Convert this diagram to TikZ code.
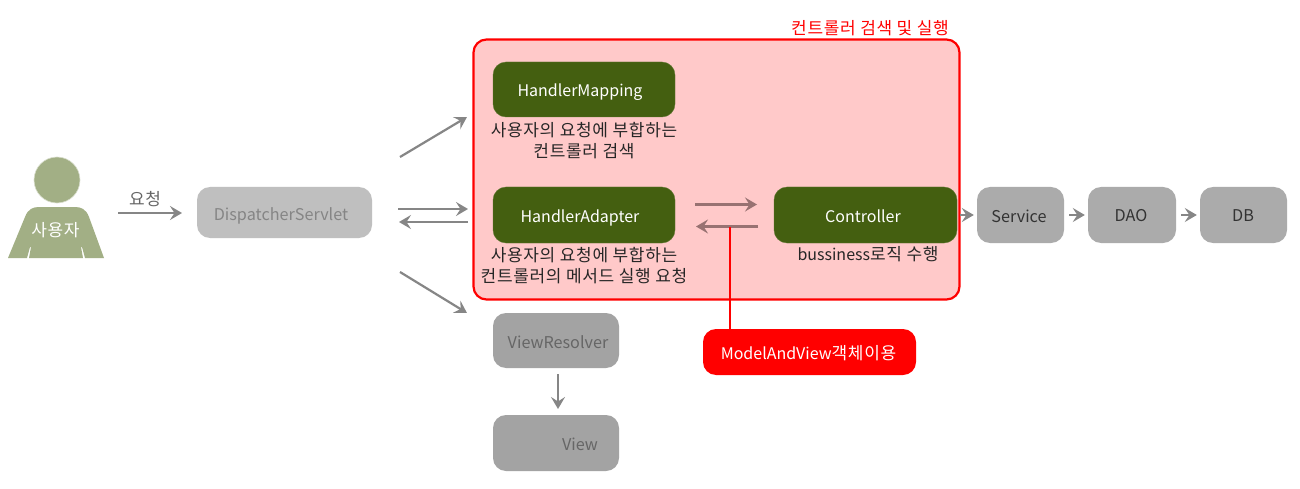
\documentclass[tikz,border=0pt]{standalone}
\usepackage{fontspec}
\setmainfont{Noto Sans CJK KR}
\newfontfamily\kofont[LetterSpace=4]{Noto Sans CJK KR}
\newcommand\ko[1]{{\kofont\fontsize{17}{21.5}\selectfont #1}}
\newcommand\lat{\fontsize{16}{18}\selectfont}
\newcommand\latb{\fontsize{16.2}{18}\selectfont}
\usetikzlibrary{arrows.meta,calc}
\definecolor{olive}{HTML}{445F10}
\definecolor{sage}{HTML}{A2AF85}
\definecolor{panelfill}{HTML}{FFC9C9}
\definecolor{arrowgray}{HTML}{868686}
\definecolor{softtext}{HTML}{858585}
\definecolor{darktext}{HTML}{666666}
\tikzset{
  box/.style={rounded corners=13pt,inner sep=0pt,font=\lat},
  greenbox/.style={box,fill=olive,draw=olive!85!white,line width=.4pt},
  dispbox/.style={box,fill=black!25},
  midbox/.style={box,fill=black!36},
  backbox/.style={box,fill=black!33},
  redbox/.style={box,fill=red},
  label/.style={inner sep=0pt,font=\lat},
  flow/.style={draw=arrowgray,line width=2.2pt,-{Stealth[length=12pt,width=14pt,inset=4.5pt]}},
  shortflow/.style={flow,shorten <=2pt,shorten >=3pt},
  caption/.style={align=center,inner sep=0pt,text=black!85,font=\fontsize{16}{21.5}\selectfont},
}
\begin{document}
\begin{tikzpicture}[x=1pt,y=-1pt]
\useasboundingbox (0,0) rectangle (1300,489);
\fill[white] (0,0) rectangle (1300,489);
% red panel
\node[draw=red,fill=panelfill,line width=2.2pt,rounded corners=13pt,minimum width=486pt,minimum height=260pt,inner sep=0pt] (panel) at (716.5,169.5) {};
\node[label,text=red] (paneltitle) at (870,28) {\ko{컨트롤러 검색 및 실행}};
% person
\node[circle,fill=sage,draw=white!60!sage,line width=.6pt,minimum size=46pt,inner sep=0pt] (head) at (57,180) {};
\fill[sage] (8,258) -- (25,217) .. controls (28,209) and (33,207) .. (39,207) -- (75,207) .. controls (81,207) and (86,209) .. (89,217) -- (104,258) -- (85,258) -- (82,247) -- (81,247) -- (83,258) -- (29,258) -- (31,247) -- (30,247) -- (27,258) -- cycle;
\node[label,text=white] (user) at (55.5,230) {\ko{사용자}};
% request
\coordinate (reqa) at (118,213);
\coordinate (reqb) at (182,213);
\draw[flow] (reqa) -- (reqb);
\node[label,text=darktext] (reqlabel) at (145,199) {\ko{요청}};
% boxes
\node[dispbox,minimum width=175pt,minimum height=51pt] (disp) at (284.5,212.5) {};
\node[label,text=softtext] (disptext) at (281,216) {\latb DispatcherServlet};
\node[greenbox,minimum width=182pt,minimum height=55pt] (hm) at (584,89.5) {};
\node[label,text=white] (hmtext) at (580,92) {HandlerMapping};
\node[greenbox,minimum width=182pt,minimum height=56pt] (ha) at (584,215) {};
\node[label,text=white] (hatext) at (580,217.5) {HandlerAdapter};
\node[greenbox,minimum width=183pt,minimum height=56pt] (ctrl) at (865.5,215) {};
\node[label,text=white] (ctrltext) at (863,216.5) {Controller};
\node[caption] (hmcap) at (584,140.5) {\ko{사용자의 요청에 부합하는}\\\ko{컨트롤러 검색}};
\node[caption] (hacap) at (584,265.5) {\ko{사용자의 요청에 부합하는}\\\ko{컨트롤러의 메서드 실행 요청}};
\node[caption] (ctrlcap) at (868,254.5) {bussiness\ko{로직 수행}};
\node[midbox,minimum width=126pt,minimum height=55pt] (vr) at (556,340.5) {};
\node[label,text=darktext] (vrtext) at (558,342) {\latb ViewResolver};
\node[midbox,minimum width=126pt,minimum height=56pt] (view) at (556,443) {};
\node[label,text=darktext] (viewtext) at (580,444) {\latb View};
\node[redbox,minimum width=213pt,minimum height=46pt] (mv) at (809.5,352) {};
\node[label,text=white] (mvtext) at (808.5,353.5) {ModelAndView\ko{객체이용}};
\node[backbox,minimum width=87pt,minimum height=56pt] (svc) at (1020.5,215) {};
\node[label,text=black!80] (svctext) at (1019,216) {\latb Service};
\node[backbox,minimum width=88pt,minimum height=56pt] (dao) at (1132,215) {};
\node[label,text=black!80] (daotext) at (1131,216) {\latb DAO};
\node[backbox,minimum width=87pt,minimum height=56pt] (db) at (1243.5,215) {};
\node[label,text=black!80] (dbtext) at (1243,216) {\latb DB};
% dispatcher arrows
\coordinate (d1a) at (400,157); \coordinate (d1b) at (467,117);
\coordinate (d2a) at (398,209); \coordinate (d2b) at (468,209);
\coordinate (d3a) at (468,222); \coordinate (d3b) at (399,222);
\coordinate (d4a) at (400,272); \coordinate (d4b) at (467,313);
\draw[flow] (d1a) -- (d1b);
\draw[flow] (d2a) -- (d2b);
\draw[flow] (d3a) -- (d3b);
\draw[flow] (d4a) -- (d4b);
% adapter and controller arrows
\coordinate (e1a) at (695,204.5); \coordinate (e1b) at (757,204.5);
\coordinate (e2a) at (758,226.5); \coordinate (e2b) at (696,226.5);
\coordinate (tap) at (730,226.5);
\draw[flow,arrowgray!85!red] (e1a) -- (e1b);
\draw[flow,arrowgray!85!red] (e2a) -- (e2b);
\draw[red,line width=2.2pt] (tap) -- (tap |- mv.north);
% chain
\draw[shortflow,shorten <=3pt] (ctrl) -- (svc);
\draw[shortflow,shorten <=5pt] (svc) -- (dao);
\draw[shortflow,shorten <=5pt] (dao) -- (db);
\coordinate (vra) at (558,374); \coordinate (vrb) at (558,409);
\draw[flow] (vra) -- (vrb);
\end{tikzpicture}
\end{document}
